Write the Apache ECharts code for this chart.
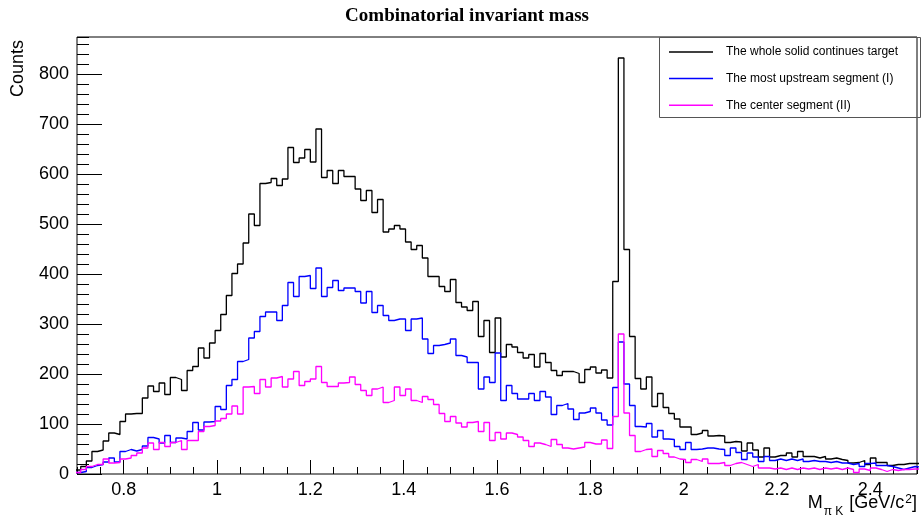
<!DOCTYPE html>
<html><head><meta charset="utf-8">
<script src="https://cdn.jsdelivr.net/npm/echarts@6/dist/echarts.min.js"></script>
<style>html,body{margin:0;padding:0;background:#fff}#c{width:921px;height:516px}</style>
</head><body><div id="c"></div>
<script>
// Histogram binning (bin edges are multiples of 0.012 GeV/c^2)
const binLow = 0.696;
const binWidth = 0.012;

const seriesNames = ['The whole solid continues target', 'The most upstream segment (I)', 'The center segment (II)'];
const seriesColors = ['#000000', '#0000ff', '#ff00ff'];

const xTickLabels = [0.8, 1.0, 1.2, 1.4, 1.6, 1.8, 2.0, 2.2, 2.4];
const yTickLabels = [0, 100, 200, 300, 400, 500, 600, 700, 800];

const wholeTarget = [8,15,26,45,48,66,82,79,105,120,121,121,152,176,165,182,159,193,189,167,207,215,252,232,262,
287,319,357,401,420,462,520,497,581,583,591,577,590,653,623,632,649,624,690,593,607,581,607,595,595,
570,547,567,523,549,484,490,497,490,464,449,457,432,395,395,375,365,389,343,334,327,345,275,307,243,
312,234,259,254,243,232,239,214,241,223,207,197,205,205,201,183,209,214,202,208,192,385,832,449,275,
191,170,194,135,161,133,121,110,94,94,79,82,87,76,77,76,63,65,64,46,62,48,34,52,34,
37,37,42,34,45,35,35,32,35,30,32,29,27,22,23,27,19,32,23,23,17,19,19,21,21,21];

const upstreamSeg = [3,5,13,17,19,24,32,24,45,49,46,49,56,73,70,62,77,63,72,70,85,103,88,104,105,
135,129,177,189,225,229,272,285,315,324,324,307,337,383,355,395,397,371,412,355,373,387,367,372,372,
365,342,365,323,337,317,307,310,310,287,310,312,270,241,257,259,262,270,237,234,223,223,170,194,183,
242,147,177,161,150,150,161,147,165,154,119,137,141,130,109,122,125,132,122,108,98,173,264,180,137,
95,94,101,74,87,70,69,55,49,63,49,50,52,52,50,49,37,52,43,29,42,34,25,35,27,
30,27,30,27,30,25,27,25,25,23,25,22,22,19,21,15,21,22,17,17,15,12,9,12,15,14];

const centerSeg = [3,9,15,19,19,30,22,23,30,32,37,42,52,62,49,63,55,63,67,49,67,67,85,95,97,
106,111,120,136,120,174,175,161,189,174,192,195,174,190,205,177,185,190,215,183,175,175,182,183,194,
179,167,157,170,174,143,147,174,157,170,147,143,155,149,139,121,105,115,102,94,103,105,85,103,67,
83,70,82,79,74,67,55,62,59,55,69,59,52,50,52,54,63,60,60,68,51,115,280,122,77,
45,49,50,35,47,41,34,30,29,23,29,25,30,21,21,23,17,21,23,19,15,19,12,12,10,
12,9,12,9,12,10,12,9,12,10,12,9,12,9,3,10,7,12,9,5,9,7,9,9,10,10];

const allCounts = [wholeTarget, upstreamSeg, centerSeg];

function toSteps(counts) {
  const pts = counts.map((v, i) => [binLow + i * binWidth, v]);
  pts.push([binLow + counts.length * binWidth, counts[counts.length - 1]]);
  return pts;
}

const FONT = '"Liberation Sans", Arial, sans-serif';
const chart = echarts.init(document.getElementById('c'), null, {renderer: 'canvas'});

const option = {
  animation: false,
  backgroundColor: '#ffffff',
  grid: {left: 77, right: 4, top: 37, bottom: 42, show: true, borderColor: '#000', borderWidth: 1, backgroundColor: 'transparent'},
  xAxis: [
    {
      type: 'value', min: 0.7, max: 2.5, position: 'bottom',
      axisLine: {show: false},
      axisTick: {show: true, inside: true, length: 14, customValues: xTickLabels, lineStyle: {color: '#000', width: 1}},
      axisLabel: {show: true, customValues: xTickLabels, margin: 7, fontSize: 18, fontFamily: FONT, color: '#000',
        formatter: v => String(+(+v).toFixed(1))},
      splitLine: {show: false}
    },
    {
      type: 'value', min: 0.7, max: 2.5, interval: 0.05, position: 'bottom',
      axisLine: {show: false},
      axisTick: {show: true, inside: true, length: 7, lineStyle: {color: '#000', width: 1}},
      axisLabel: {show: false}, splitLine: {show: false}
    }
  ],
  yAxis: [
    {
      type: 'value', min: 0, max: 874, position: 'left',
      axisLine: {show: false},
      axisTick: {show: true, inside: true, length: 25, customValues: yTickLabels, lineStyle: {color: '#000', width: 1}},
      axisLabel: {show: true, customValues: yTickLabels, margin: 8, fontSize: 18, fontFamily: FONT, color: '#000'},
      splitLine: {show: false}
    },
    {
      type: 'value', min: 0, max: 874, interval: 20, position: 'left',
      axisLine: {show: false},
      axisTick: {show: true, inside: true, length: 12, lineStyle: {color: '#000', width: 1}},
      axisLabel: {show: false}, splitLine: {show: false}
    }
  ],
  legend: {
    orient: 'vertical', left: 664, top: 39, itemWidth: 44, itemHeight: 1.5, itemGap: 10.6,
    icon: 'rect', selectedMode: false,
    textStyle: {fontFamily: FONT, fontSize: 12, color: '#000', lineHeight: 16, padding: [0, 0, 0, 8]},
    data: seriesNames
  },
  graphic: [
    {type: 'rect', z: 10, shape: {x: 659.5, y: 37.5, width: 261, height: 80}, style: {fill: 'none', stroke: '#555', lineWidth: 1}},
    {type: 'text', z: 10, x: 467, y: 16, style: {text: 'Combinatorial invariant mass', fontFamily: '"Liberation Serif", "Times New Roman", serif', fontWeight: 'bold', fontSize: 19, fill: '#000', align: 'center', verticalAlign: 'middle'}},
    {type: 'text', z: 10, x: 18, y: 40, rotation: Math.PI / 2, style: {text: 'Counts', fontFamily: FONT, fontSize: 18, fill: '#000', align: 'right', verticalAlign: 'middle'}},
    {type: 'text', z: 10, x: 917, y: 505, style: {
      text: '{m|M}{s|π K}{m| [GeV/c}{p|2}{m|]}', align: 'right', verticalAlign: 'middle', fill: '#000',
      rich: {
        m: {fontFamily: FONT, fontSize: 18, lineHeight: 22, verticalAlign: 'top', fill: '#000'},
        s: {fontFamily: FONT, fontSize: 12, lineHeight: 12, padding: [12, 1, 0, 1], verticalAlign: 'top', fill: '#000'},
        p: {fontFamily: FONT, fontSize: 12, lineHeight: 12, padding: [0, 0, 0, 1], verticalAlign: 'top', fill: '#000'}
      }
    }}
  ],
  series: allCounts.map((counts, i) => ({
    name: seriesNames[i], type: 'line', step: 'end', xAxisIndex: 0, yAxisIndex: 0,
    data: toSteps(counts), showSymbol: false, symbol: 'none', clip: true,
    lineStyle: {color: seriesColors[i], width: 1.3}, itemStyle: {color: seriesColors[i]},
    emphasis: {disabled: true}
  }))
};
chart.setOption(option);
</script>
</body></html>
